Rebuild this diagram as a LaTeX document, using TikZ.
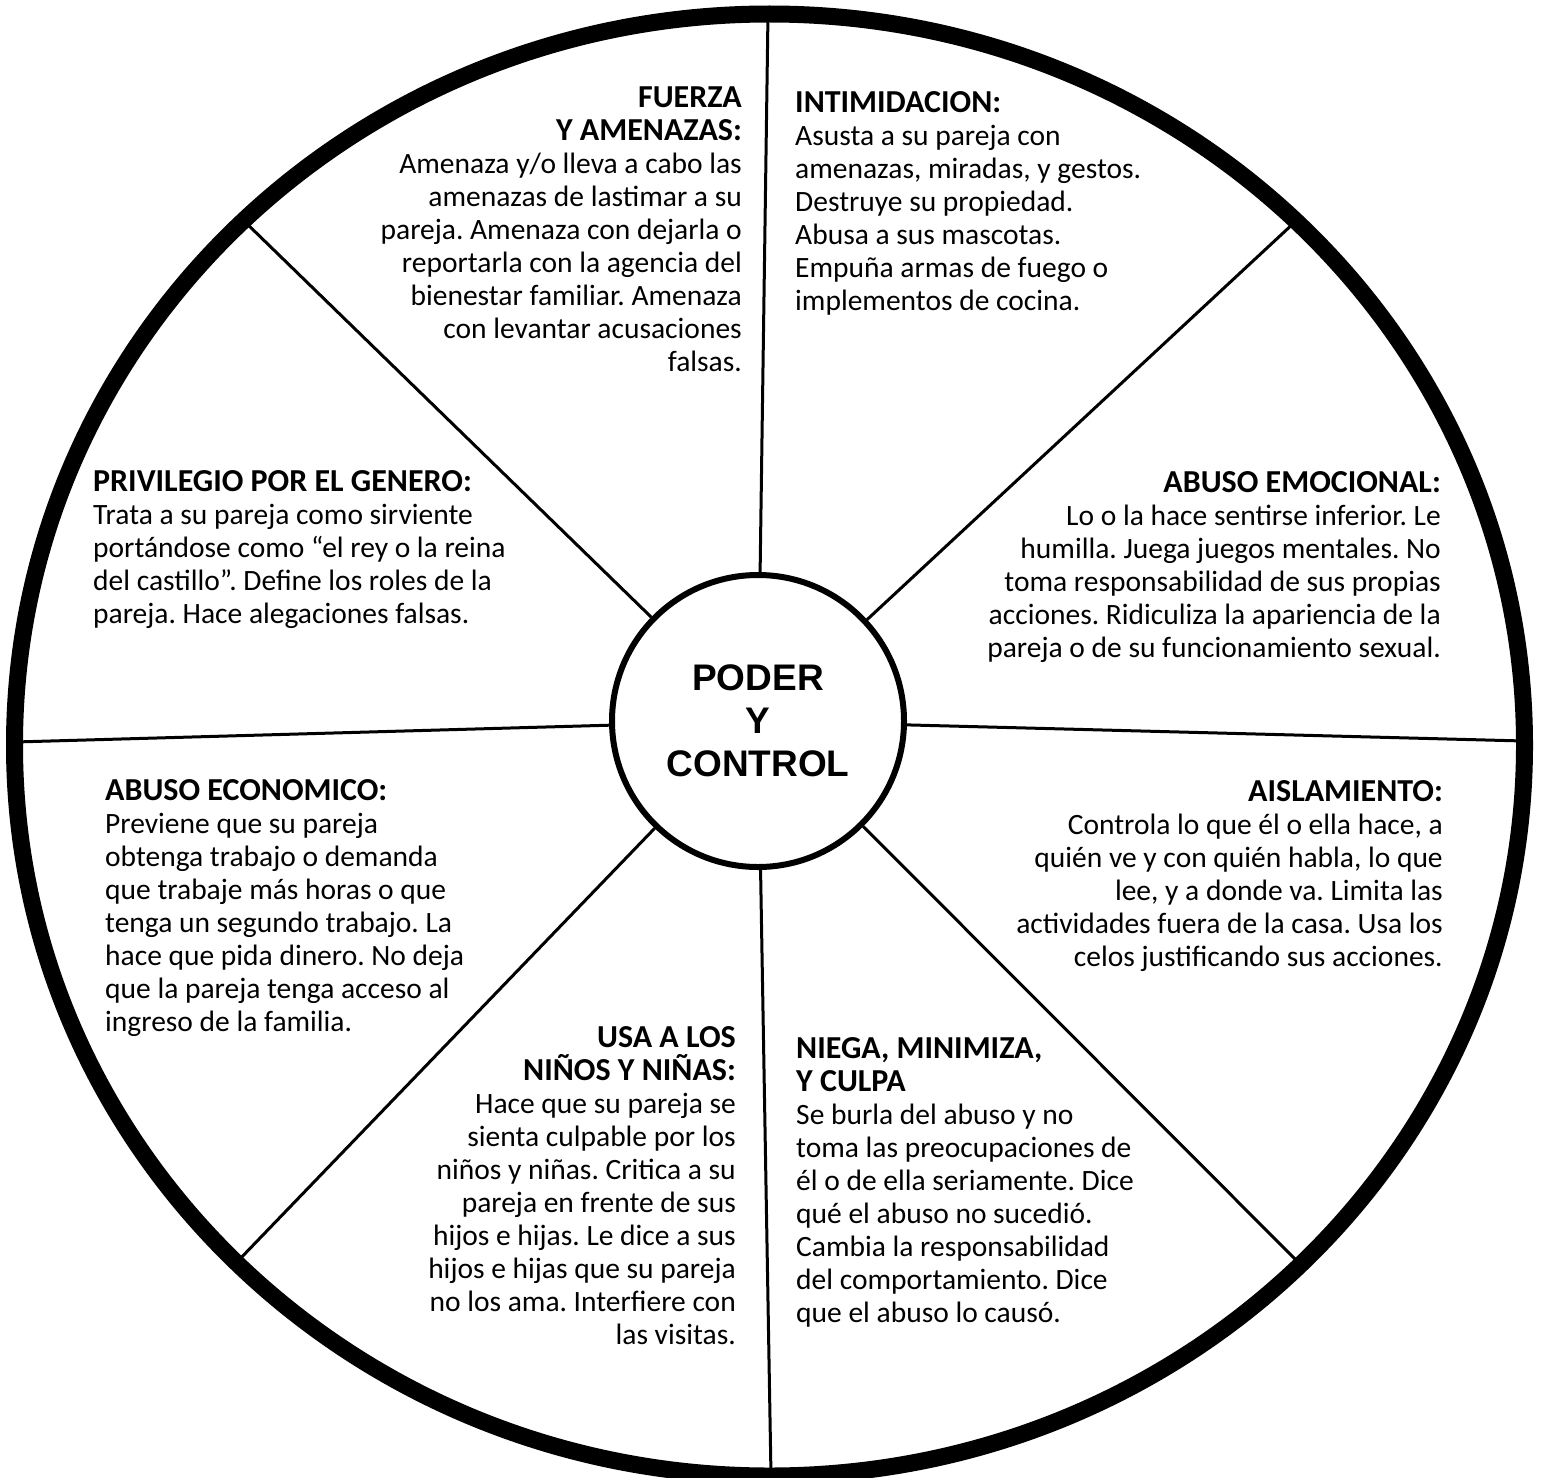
\documentclass[tikz,border=0pt]{standalone}
\usepackage{fontspec}
\setmainfont{Carlito}
\newfontfamily\hubfont{Liberation Sans}
\newcommand{\hd}[1]{{\fontsize{32}{33}\selectfont\bfseries #1}}

\begin{document}
\frenchspacing
\begin{tikzpicture}[x=1pt, y=-1pt,
  hub/.style={draw, circle, line width=6pt, fill=white, minimum size=292pt, inner sep=0pt, align=center, font=\hubfont\bfseries\fontsize{37}{43}\selectfont},
  spoke/.style={line width=3pt},
  txtl/.style={anchor=north west, inner sep=0pt, align=left, font=\fontsize{29.5}{33}\selectfont},
  txtr/.style={anchor=north east, inner sep=0pt, align=right, font=\fontsize{29.5}{33}\selectfont}]

  \useasboundingbox (0,0) rectangle (1541,1477);

  % Rim points
  \coordinate (R1) at (768,13);
  \coordinate (R2) at (1296,221);
  \coordinate (R3) at (1524,741);
  \coordinate (R4) at (1301,1265);
  \coordinate (R5) at (771,1476);
  \coordinate (R6) at (236,1263);
  \coordinate (R7) at (15,742);
  \coordinate (R8) at (242,219);

  % Hub
  \node[hub] (H) at (758,721) {PODER\\Y\\CONTROL};

  % Spokes
  \draw[spoke] (H) -- (R1);
  \draw[spoke] (H) -- (R2);
  \draw[spoke] (H) -- (R3);
  \draw[spoke] (H) -- (R4);
  \draw[spoke] (H) -- (R5);
  \draw[spoke] (H) -- (R6);
  \draw[spoke] (H) -- (R7);
  \draw[spoke] (H) -- (R8);

  % Rim
  \draw[line width=17pt] (769.5,745) ellipse [x radius=755, y radius=731];

  % Top sectors
  \node[txtr] (T1) at (742,87) {\hd{FUERZA}\\\hd{Y AMENAZAS:}\\Amenaza y/o lleva a cabo las\\amenazas de lastimar a su\\pareja. Amenaza con dejarla o\\reportarla con la agencia del\\bienestar familiar. Amenaza\\con levantar acusaciones\\falsas.};
  \node[txtl] (T2) at (795,91) {\hd{INTIMIDACION:}\\Asusta a su pareja con\\amenazas, miradas, y gestos.\\Destruye su propiedad.\\Abusa a sus mascotas.\\Empuña armas de fuego o\\implementos de cocina.};

  % Middle-upper sectors
  \node[txtl] (T3) at (93,470) {\hd{PRIVILEGIO POR EL GENERO:}\\Trata a su pareja como sirviente\\portándose como “el rey o la reina\\del castillo”. Define los roles de la\\pareja. Hace alegaciones falsas.};
  \node[txtr] (T4) at (1441,471) {\hd{ABUSO EMOCIONAL:}\\Lo o la hace sentirse inferior. Le\\humilla. Juega juegos mentales. No\\toma responsabilidad de sus propias\\acciones. Ridiculiza la apariencia de la\\pareja o de su funcionamiento sexual.};

  % Middle-lower sectors
  \node[txtl] (T5) at (105,779) {\hd{ABUSO ECONOMICO:}\\Previene que su pareja\\obtenga trabajo o demanda\\que trabaje más horas o que\\tenga un segundo trabajo. La\\hace que pida dinero. No deja\\que la pareja tenga acceso al\\ingreso de la familia.};
  \node[txtr] (T6) at (1443,780) {\hd{AISLAMIENTO:}\\Controla lo que él o ella hace, a\\quién ve y con quién habla, lo que\\lee, y a donde va. Limita las\\actividades fuera de la casa. Usa los\\celos justificando sus acciones.};

  % Bottom sectors
  \node[txtr] (T7) at (736,1026) {\hd{USA A LOS}\\\hd{NIÑOS Y NIÑAS:}\\Hace que su pareja se\\sienta culpable por los\\niños y niñas. Critica a su\\pareja en frente de sus\\hijos e hijas. Le dice a sus\\hijos e hijas que su pareja\\no los ama. Interfiere con\\las visitas.};
  \node[txtl] (T8) at (796,1037) {\hd{NIEGA, MINIMIZA,}\\\hd{Y CULPA}\\Se burla del abuso y no\\toma las preocupaciones de\\él o de ella seriamente. Dice\\qué el abuso no sucedió.\\Cambia la responsabilidad\\del comportamiento. Dice\\que el abuso lo causó.};

\end{tikzpicture}
\end{document}
